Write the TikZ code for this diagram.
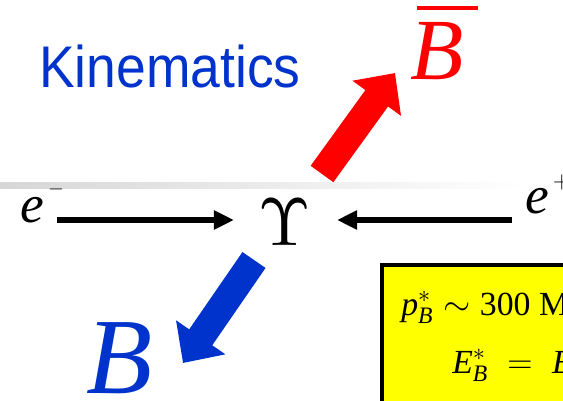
\documentclass[tikz,border=0pt]{standalone}
\usepackage{amsmath}
\usepackage{graphicx}
\usepackage{fontspec}
\setmainfont{Liberation Serif}
\newfontfamily\titlefont{Liberation Sans}
\usetikzlibrary{arrows.meta,positioning}
\definecolor{KinBlue}{RGB}{0,51,204}
\definecolor{KinRed}{RGB}{255,0,0}
\definecolor{KinYellow}{RGB}{255,255,0}
\newcommand{\lepsign}[3]{\kern3pt\raisebox{#2}{\fontsize{#3}{#3}\selectfont$#1$}}

\begin{document}
\begin{tikzpicture}[x=0.025cm, y=-0.025cm,
    title/.style={font=\titlefont\fontsize{38}{40}\selectfont, text=KinBlue, inner sep=0pt},
    lepton/.style={font=\fontsize{38}{40}\selectfont, inner sep=0pt},
    meson/.style={inner sep=0pt},
    beam/.style={line width=0.15cm, -{Triangle[width=0.45cm, length=0.5cm]}},
    decay/.style={line width=0.7cm, -{Triangle[width=1.45cm, length=0.78cm]}},
    formula/.style={draw=black, line width=0.1cm, fill=KinYellow, inner sep=0pt, minimum width=6cm, minimum height=4cm}]

    \useasboundingbox (0,0) rectangle (563,400);
    \clip (0,0) rectangle (563,400);

    \shade[left color=black!16, right color=white] (0,182) rectangle (525,188);

    \node[title, anchor=base west] (title) at (39,88) {\scalebox{1}[1.1]{Kinematics}};

    \node[lepton, anchor=base west] (em) at (20,222) {\textit{e}\lepsign{-}{0.52em}{15}};
    \node[lepton, anchor=base west] (ep) at (525,213) {\textit{e}\lepsign{+}{0.45em}{17}};
    \node[lepton, anchor=base] (ups) at (285,245) {\normalsize\scalebox{4.8}{$\Upsilon$}};

    \node[meson, text=KinRed, font=\fontsize{62}{64}\selectfont, anchor=base west] (bbar) at (410,80) {\rlap{\kern5pt\raisebox{50pt}{\rule{43pt}{2.8pt}}}\textit{B}};
    \node[meson, text=KinBlue, font=\fontsize{77}{80}\selectfont, anchor=base west] (bmes) at (86,393) {\textit{B}};

    % beams
    \coordinate (emtail) at (57,220);
    \coordinate (emtip) at (234,220);
    \coordinate (eptail) at (512,220);
    \coordinate (eptip) at (337,220);
    \draw[beam] (emtail) -- (emtip);
    \draw[beam] (eptail) -- (eptip);

    % decay products
    \coordinate (redtail) at (322,174);
    \coordinate (redtip) at (395,73);
    \coordinate (bluetail) at (254,260);
    \coordinate (bluetip) at (183,363);
    \draw[decay, KinRed] (redtail) -- (redtip);
    \draw[decay, KinBlue] (bluetail) -- (bluetip);

    \node[formula, anchor=north west] (box) at (380,263) {};
    \node[font=\fontsize{24}{26}\selectfont, anchor=base west, inner sep=0pt] (pstar) at (401,315) {$\textit{p}^{*}_{\textit{B}} \sim \text{300 M}$};
    \node[font=\fontsize{24}{26}\selectfont, anchor=base west, inner sep=0pt] (estar) at (452,373) {$\textit{E}^{*}_{\textit{B}} \;=\; \textit{E}$};
\end{tikzpicture}
\end{document}
